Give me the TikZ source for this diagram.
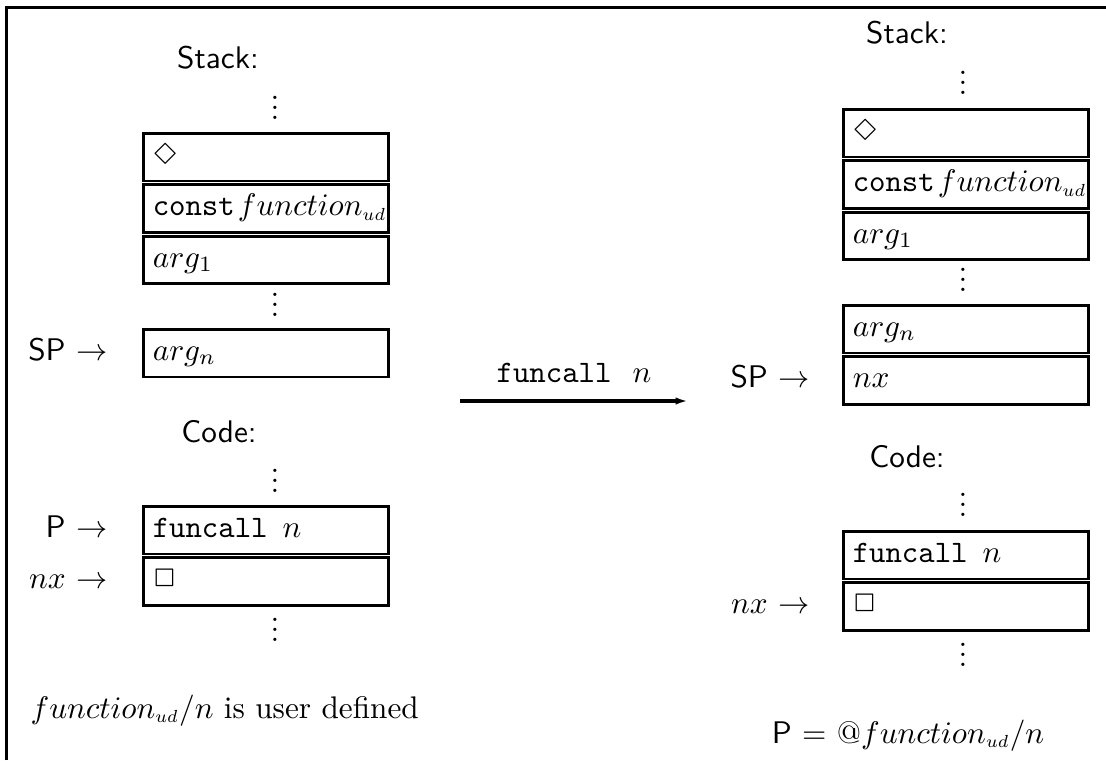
\documentclass[tikz,border=0pt]{standalone}
\usepackage{latexsym}
\usetikzlibrary{arrows.meta}
\newcommand\mydots{\vbox{\baselineskip3.2pt\lineskiplimit0pt\hbox{.}\hbox{.}\hbox{.}}}
\newcommand\cellt[1]{\hspace*{3pt}\mbox{#1}}
\newcommand\fud{function_{\scalebox{0.8}{$\scriptstyle ud$}}}
\begin{document}
\begin{tikzpicture}[x=0.32pt,y=-0.32pt,
  cell/.style={draw,line width=0.9pt,anchor=north west,
    minimum width=245*0.32pt,minimum height=47.5*0.32pt,
    text width=245*0.32pt,align=left,inner xsep=0pt,inner ysep=0pt,
    text height=7pt,text depth=2.5pt},
  dotsnode/.style={inner sep=0pt,anchor=south},
  lbl/.style={inner sep=0pt},
  frame/.style={line width=1pt},
  trans/.style={line width=1pt,-{Latex[length=4pt,width=2.4pt]}}]
\useasboundingbox (0,0) rectangle (1106,760);
\draw[frame] (6.5,760) -- (6.5,7.5) -- (1106,7.5);

% ---------- left: before ----------
\node[lbl,anchor=base] (lstack) at (218,68) {\textsf{Stack:}};
\node[dotsnode] (ld1) at (275,120) {\mydots};
\node[cell] (ls1) at (142,132) {\cellt{$\Diamond$}};
\node[cell] (ls2) at ([yshift=-0.3pt]ls1.south west) {\cellt{\texttt{const}\hspace{1pt}$\fud$}};
\node[cell] (ls3) at ([yshift=-0.4pt]ls2.south west) {\cellt{$arg_1$}};
\node[dotsnode] (ld2) at (275,317) {\mydots};
\node[cell] (lsn) at (142,328) {\cellt{$arg_n$}};
\node[lbl,anchor=base east] (lsp) at ([xshift=-10.9pt]lsn.base west) {\textsf{SP} $\rightarrow$};

\node[lbl,anchor=base] (lcode) at (219,442) {\textsf{Code:}};
\node[dotsnode] (ld3) at (275,493) {\mydots};
\node[cell] (lc1) at (142,505) {\cellt{\texttt{funcall\ }\hspace{1.5pt}$n$}};
\node[cell] (lc2) at ([yshift=-0.3pt]lc1.south west) {\cellt{$\Box$}};
\node[dotsnode] (ld4) at (275,642) {\mydots};
\node[lbl,anchor=base east] (lp) at ([xshift=-10.9pt]lc1.base west) {\textsf{P} $\rightarrow$};
\node[lbl,anchor=base east] (lnx) at ([xshift=-10.9pt]lc2.base west) {$nx$ $\rightarrow$};

\node[lbl,anchor=base west] (lnote) at (30,718) {$\fud$\textsf{/}$n$ is user defined};

% ---------- transition ----------
\coordinate (ta) at (460,401);
\coordinate (tb) at (688,401);
\draw[trans] (ta) -- (tb);
\node[lbl,anchor=base] (tlabel) at (574,382) {\texttt{funcall\ }\hspace{1.5pt}$n$};

% ---------- right: after ----------
\node[lbl,anchor=base] (rstack) at (907,43) {\textsf{Stack:}};
\node[dotsnode] (rd1) at (963,95) {\mydots};
\node[cell] (rs1) at (842,108) {\cellt{$\Diamond$}};
\node[cell] (rs2) at ([yshift=-0.3pt]rs1.south west) {\cellt{\texttt{const}\hspace{1pt}$\fud$}};
\node[cell] (rs3) at ([yshift=-0.4pt]rs2.south west) {\cellt{$arg_1$}};
\node[dotsnode] (rd2) at (963,292) {\mydots};
\node[cell] (rsn) at (842,304) {\cellt{$arg_n$}};
\node[cell] (rsnx) at ([yshift=-0.3pt]rsn.south west) {\cellt{$nx$}};
\node[lbl,anchor=base east] (rsp) at ([xshift=-10.2pt]rsnx.base west) {\textsf{SP} $\rightarrow$};

\node[lbl,anchor=base] (rcode) at (907,467) {\textsf{Code:}};
\node[dotsnode] (rd3) at (963,517) {\mydots};
\node[cell] (rc1) at (842,530) {\cellt{\texttt{funcall\ }\hspace{1.5pt}$n$}};
\node[cell] (rc2) at ([yshift=-0.3pt]rc1.south west) {\cellt{$\Box$}};
\node[dotsnode] (rd4) at (963,667) {\mydots};
\node[lbl,anchor=base east] (rnx) at ([xshift=-10.2pt]rc2.base west) {$nx$ $\rightarrow$};

\node[lbl,anchor=base] (rnote) at (908,743) {\textsf{P} $=$ @$\fud$\textsf{/}$n$};
\end{tikzpicture}
\end{document}
